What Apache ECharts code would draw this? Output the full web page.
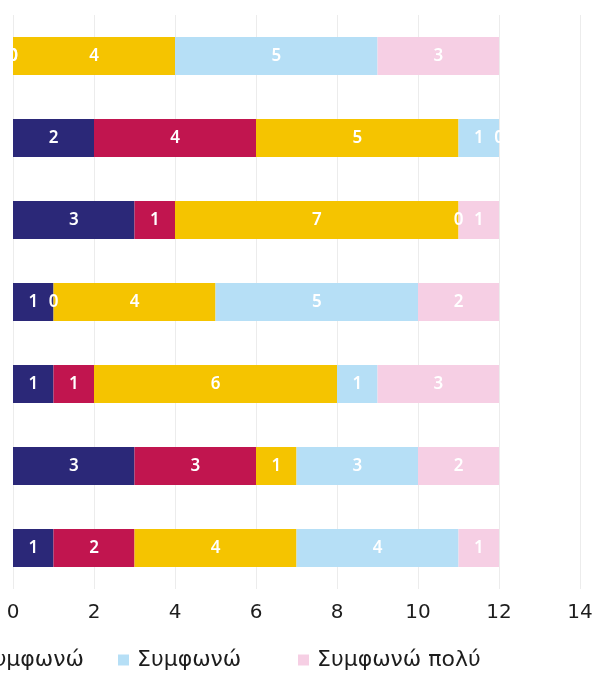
<!DOCTYPE html>
<html>
<head>
<meta charset="utf-8">
<title>chart</title>
<style>
  html, body { margin: 0; padding: 0; background: #fff; }
  #main { width: 592px; height: 673px; }
</style>
</head>
<body>
<div id="main"></div>
<script src="https://cdn.jsdelivr.net/npm/echarts@6/dist/echarts.min.js"></script>
<script>
    // categories (top to bottom), labels are off the visible area in the original
    var categories = ['Δήλωση 1', 'Δήλωση 2', 'Δήλωση 3', 'Δήλωση 4', 'Δήλωση 5', 'Δήλωση 6', 'Δήλωση 7'];
    var seriesNames = ['Διαφωνώ πολύ', 'Διαφωνώ', 'Ούτε διαφωνώ ούτε συμφωνώ', 'Συμφωνώ', 'Συμφωνώ πολύ'];
    var colors = ['#2b2878', '#c1154f', '#f5c400', '#b6dff6', '#f6cfe4'];
    var disagreeStrong = [0, 2, 3, 1, 1, 3, 1];
    var disagree = [0, 4, 1, 0, 1, 3, 2];
    var neutral = [4, 5, 7, 4, 6, 1, 4];
    var agree = [5, 1, 0, 5, 1, 3, 4];
    var agreeStrong = [3, 0, 1, 2, 3, 2, 1];
    var xTicks = [0, 2, 4, 6, 8, 10, 12, 14];

    var values = [disagreeStrong, disagree, neutral, agree, agreeStrong];
    var myChart = echarts.init(document.getElementById('main'));

    var series = values.map(function (d, i) {
        return {
            name: seriesNames[i],
            type: 'bar',
            stack: 'total',
            barWidth: 38,
            data: d,
            itemStyle: { color: colors[i] },
            label: {
                show: true,
                position: 'inside',
                color: '#fff',
                fontFamily: 'Noto Sans',
                fontSize: 17,
                fontWeight: 600
            }
        };
    });

    var legendText = {
        color: '#1d1d1d',
        fontFamily: 'DejaVu Sans',
        fontSize: 22,
        padding: [0, 0, 0, 3]
    };

    option = {
        animation: false,
        grid: { left: 13, right: 12, top: 15, bottom: 84, outerBoundsMode: 'none', containLabel: false },
        legend: [{
            // the first items run off the left edge, as in the cropped original
            data: seriesNames.slice(0, 3),
            right: 503,
            width: 1200,
            top: 644,
            icon: 'rect',
            itemWidth: 11,
            itemHeight: 11,
            itemGap: 30,
            textStyle: legendText
        }, {
            data: [seriesNames[3]],
            left: 113,
            top: 644,
            icon: 'rect',
            itemWidth: 11,
            itemHeight: 11,
            textStyle: legendText
        }, {
            data: [seriesNames[4]],
            left: 293,
            top: 644,
            icon: 'rect',
            itemWidth: 11,
            itemHeight: 11,
            textStyle: legendText
        }],
        xAxis: {
            type: 'value',
            min: 0,
            max: xTicks[xTicks.length - 1],
            interval: 2,
            axisLine: { show: false },
            axisTick: { show: false },
            splitLine: { lineStyle: { color: '#ececec' } },
            axisLabel: {
                color: '#1d1d1d',
                fontFamily: 'DejaVu Sans',
                fontSize: 20,
                margin: 14,
                formatter: function (v) { return xTicks.indexOf(v) >= 0 ? String(v) : ''; }
            }
        },
        yAxis: {
            type: 'category',
            inverse: true,
            data: categories,
            axisLine: { show: false },
            axisTick: { show: false },
            axisLabel: { show: false }
        },
        series: series
    };
    myChart.setOption(option);
</script>
</body>
</html>
